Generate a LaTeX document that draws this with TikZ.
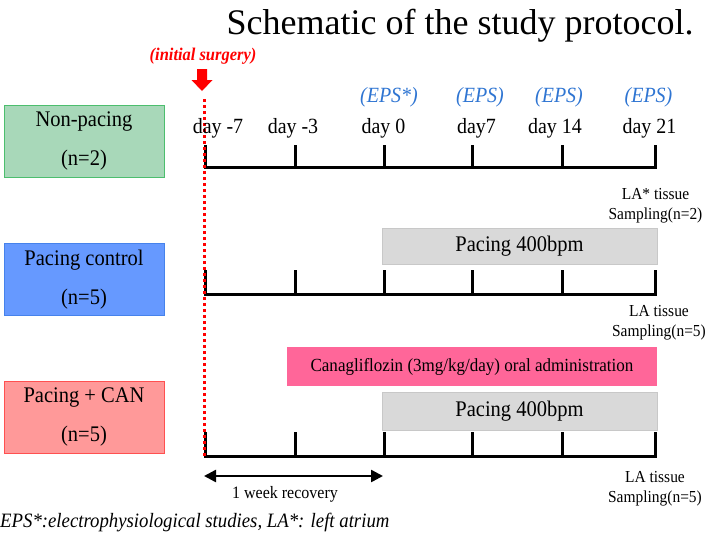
\documentclass[tikz,border=0pt]{standalone}
\usepackage{fontspec}
\setmainfont{Liberation Serif}
\newfontfamily\condfont[FakeStretch=0.92]{Liberation Serif}
\usetikzlibrary{arrows.meta}
\definecolor{npfill}{RGB}{168,216,185}
\definecolor{npdraw}{RGB}{76,190,110}
\definecolor{pcfill}{RGB}{102,153,255}
\definecolor{pcdraw}{RGB}{70,130,235}
\definecolor{cafill}{RGB}{255,153,153}
\definecolor{cadraw}{RGB}{255,80,80}
\definecolor{pinkbar}{RGB}{255,102,153}
\definecolor{graybar}{RGB}{217,217,217}
\definecolor{graydraw}{RGB}{200,200,200}
\definecolor{epsblue}{RGB}{47,117,210}
\definecolor{surgred}{RGB}{255,0,0}
\tikzset{
  grp/.style={draw, line width=1pt, minimum width=160pt, minimum height=72pt,
    inner sep=0pt, align=center, font={\condfont\fontsize{22.3}{39}\selectfont}},
  bar/.style={inner sep=0pt, font={\condfont\fontsize{22.3}{24}\selectfont}},
  daylab/.style={inner sep=0pt, font={\condfont\fontsize{21.7}{24}\selectfont}},
  epslab/.style={inner sep=0pt, text=epsblue, font={\condfont\fontsize{21.7}{24}\selectfont\itshape}},
  samplab/.style={inner sep=0pt, align=center, font={\condfont\fontsize{16.8}{20}\selectfont}},
  axis/.style={line width=3pt, line cap=rect},
  tick/.style={line width=3pt}
}
\begin{document}
\begin{tikzpicture}[x=1pt,y=-1pt]
\useasboundingbox (0,0) rectangle (709,536);

% title
\node[inner sep=0pt, font={\fontsize{36}{40}\selectfont}, anchor=base] (title) at (460,34) {Schematic of the study protocol.};

% initial surgery
\node[inner sep=0pt, text=surgred, font={\condfont\fontsize{17.9}{20}\selectfont\bfseries\itshape}] (surg) at (203,56) {(initial surgery)};
\fill[surgred] (197,69) -- (207,69) -- (207,80) -- (212.5,80) -- (202,91) -- (191.5,80) -- (197,80) -- cycle;
\coordinate (surgtop) at (204.5,99);
\coordinate (surgbot) at (204.5,458);

% group boxes
\node[grp, fill=npfill, draw=npdraw] (g1) at (84,141) {Non-pacing\\(n=2)};
\node[grp, fill=pcfill, draw=pcdraw] (g2) at (84,279.5) {Pacing control\\(n=5)};
\node[grp, fill=cafill, draw=cadraw] (g3) at (84,417) {Pacing + CAN\\(n=5)};

% bars
\node[bar, fill=graybar, draw=graydraw, line width=0.8pt, minimum width=275pt, minimum height=36pt] (pace2) at (519.5,246) {Pacing 400bpm};
\node[bar, fill=pinkbar, minimum width=370pt, minimum height=39pt, font={\condfont\fontsize{18.5}{20}\selectfont}] (cana) at (472,366.5) {Canagliflozin (3mg/kg/day) oral administration};
\node[bar, fill=graybar, draw=graydraw, line width=0.8pt, minimum width=275pt, minimum height=38pt] (pace3) at (519.5,411) {Pacing 400bpm};

% timelines
\foreach \r/\y/\h in {1/167/22, 2/294/24, 3/456/24}{
  \foreach \k/\x in {0/205.5, 1/295.5, 2/384, 3/472.5, 4/562, 5/655.5}{
    \coordinate (t\r\k) at (\x,\y);
  }
  \draw[axis] (t\r0) -- (t\r5);
  \foreach \k in {0,...,5}{
    \draw[tick] (t\r\k) -- ++(0,-\h);
  }
}

% red dotted line
\draw[surgred, line width=3pt, dash pattern=on 3pt off 3pt] (surgtop) -- (surgbot);

% day labels
\node[daylab] (d0) at (218,128) {day -7};
\node[daylab] (d1) at (293,128) {day -3};
\node[daylab] (d2) at (383.5,128) {day 0};
\node[daylab] (d3) at (476.5,128) {day7};
\node[daylab] (d4) at (555,128) {day 14};
\node[daylab] (d5) at (649.5,128) {day 21};

% EPS labels
\node[epslab] (e2) at (389,97) {(EPS*)};
\node[epslab] (e3) at (480,97) {(EPS)};
\node[epslab] (e4) at (559,97) {(EPS)};
\node[epslab] (e5) at (648.5,97) {(EPS)};

% sampling labels
\node[samplab] (s1) at (655.5,206) {LA* tissue\\Sampling(n=2)};
\node[samplab] (s2) at (659,323) {LA tissue\\Sampling(n=5)};
\node[samplab] (s3) at (655,488.5) {LA tissue\\Sampling(n=5)};

% recovery arrow
\coordinate (rec0) at (204,476);
\coordinate (rec1) at (383,476);
\draw[line width=2.5pt, {Triangle[length=12pt,width=12pt]}-{Triangle[length=12pt,width=12pt]}] (rec0) -- (rec1);
\node[inner sep=0pt, font={\condfont\fontsize{17.4}{20}\selectfont}] (rec) at (285,494) {1 week recovery};

% footnote
\node[inner sep=0pt, anchor=west, font={\condfont\fontsize{20.4}{22}\selectfont\itshape}] (foot) at (0,523) {EPS*:electrophysiological studies, LA*: left atrium};
\end{tikzpicture}
\end{document}
